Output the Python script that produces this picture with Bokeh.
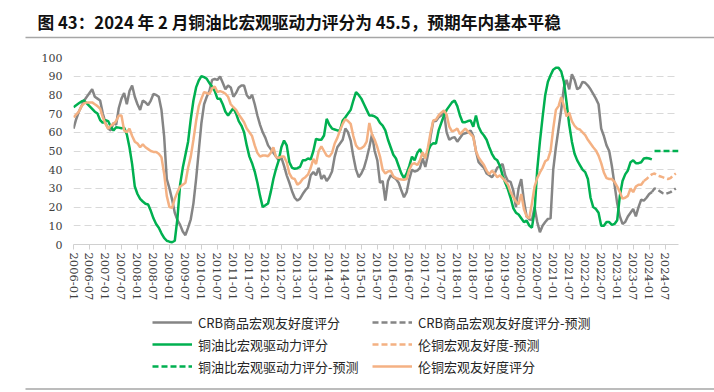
from bokeh.plotting import figure
from bokeh.layouts import column
from bokeh.models import Range1d, FixedTicker, Legend, LegendItem
from bokeh.core.properties import value
from bokeh.embed import file_html
from bokeh.resources import INLINE

# ---------------- data (monthly, index 0 = 2006-01) ----------------
crb_start = 0
crb = [62, 67, 71, 74, 77, 79, 81, 83, 79, 78, 77, 70, 65, 62, 61, 65, 64, 73, 78, 81,
       75, 82, 85, 79, 75, 72, 77, 76, 74.5, 77, 80.5, 80, 79, 72, 58, 35, 30, 24, 17, 13,
       10.5, 7, 5, 9, 13.5, 22, 35, 50, 65, 75, 79, 82, 88, 88.5, 88, 89.8, 86.5, 83, 85, 84,
       79, 81, 84, 85, 85, 80, 78, 80, 75, 69, 64, 60, 57, 53, 51, 49, 47, 45, 46.5, 42,
       37, 33, 28.5, 25, 23.5, 24.5, 27, 29, 30.6, 37, 38.7, 37, 41, 35, 37, 34, 36, 39, 47, 52,
       54, 56, 62, 60, 55.6, 47, 40, 36, 38, 41, 46, 52, 59, 50, 45, 33, 34, 23.5, 34, 37,
       36, 35, 33, 29, 25.3, 28, 35, 40, 39, 39.5, 41, 46, 41.5, 48, 58, 66, 66, 68, 69, 70.7,
       60, 56, 57, 57.4, 55, 57, 59, 59.5, 60, 61, 58, 50, 44, 42.5, 41, 38, 37, 36, 38, 41,
       42, 43, 37, 34, 33.5, 29, 20, 30, 35, 23.5, 15, 13.5, 13, 20, 12, 6.6, 10, 12, 13.7, 14,
       40, 52, 62, 72, 84, 88, 83, 91, 88, 83, 84, 87, 86.5, 85, 83, 80.6, 78, 75, 62, 58,
       53, 50, 42, 32, 22, 15, 11, 12, 15, 17, 19, 15, 20, 24, 23.5, 25, 27, 28]
crb_fc_start = 217
crb_fc = [28, 30, 29.5, 28.5, 27.5, 27, 27.5, 28, 29, 30]

oil_start = 0
oil = [73.4, 74.5, 75.5, 76.5, 77, 75.5, 74, 72.5, 71, 70, 66.5, 65, 66.5, 66, 63, 61, 62.7, 62.5, 62.2, 62.4,
       59, 52, 43, 31, 27, 24.4, 23, 21.8, 21.4, 18, 14, 11, 9, 6, 3.5, 2, 1.5, 1.2, 2, 14,
       32, 41, 48, 55, 67, 77, 84, 87.7, 90, 89.5, 88.6, 86.3, 84.5, 82, 78, 78, 75, 71, 69, 71,
       73, 70, 66, 63.6, 60, 53, 47, 43.5, 39, 33, 26, 20, 21, 22, 28, 35, 40.5, 45, 52, 55.6,
       53, 44, 41, 40.5, 40.8, 41.5, 45, 45, 46, 45.5, 50, 56.5, 56, 56, 58.3, 67.2, 64, 62, 61.5, 61,
       61, 66.3, 68, 70, 72, 77, 81.5, 80, 78, 75, 72, 69, 69, 68.5, 67.5, 65, 63.6, 61, 56, 52,
       48, 46, 42, 38, 35.5, 38, 42, 47, 45, 49, 51, 48, 46.7, 50, 53, 54.2, 54, 61, 65, 69,
       72, 74, 76, 77, 74, 69, 65.4, 65.4, 66, 66.3, 63, 69, 63, 60, 58.3, 56, 52, 48.5, 46, 45,
       42, 37, 33, 29.5, 25, 19.5, 17, 16, 14, 12, 12.8, 10.2, 9, 18, 40, 55, 68, 80, 87, 90.5,
       93.5, 94.5, 94.5, 92.5, 87, 76, 64, 55, 48.5, 45, 42.5, 40, 38.7, 35, 25, 20, 19, 17, 10, 10,
       12, 12, 10.5, 11, 13, 26, 34, 37.5, 39.6, 44, 45, 43.5, 43.5, 44, 46, 46.3, 46, 45.5]
oil_fc_start = 218
oil_fc = [50, 50, 50, 50, 50, 50, 50, 50, 50, 50]

lme_start = 0
lme = [68, 69.5, 71, 74, 75.5, 76, 76, 76, 75, 74, 72.6, 68, 64.5, 62, 63.5, 64.5, 66, 69, 69, 61,
       60, 62, 58, 55, 54, 52, 53.5, 52, 51, 50, 49.5, 49.5, 48.5, 46.7, 38, 26, 20, 19.6, 24.5, 28,
       31, 32, 33, 41, 47, 56, 66, 74, 78, 81.5, 81, 80.5, 83.5, 84.5, 81.5, 82, 81.5, 80.6, 79, 75,
       73.4, 72, 69.5, 67.5, 65.4, 62, 60, 58, 53, 49, 47, 47.6, 47.6, 47.2, 49, 52, 46.7, 46.3, 47, 47,
       44, 38, 35.5, 35, 32, 33, 35, 36, 37.5, 41, 45.8, 43, 50, 52.5, 50, 47.5, 47, 49, 54, 57,
       61, 64.5, 67, 66, 64.5, 58, 53, 51.2, 51.5, 52.5, 55, 65, 59, 56, 52, 47, 40, 38, 39, 39.6,
       36.5, 35.5, 35, 34.8, 34.6, 35, 40, 43, 43.5, 42.5, 45, 49.4, 46, 52, 60, 66.3, 66.8, 69, 70.5, 71.7,
       69.5, 63, 60.5, 61, 62, 59, 60.5, 62, 60.5, 59, 57.5, 50, 46.5, 44.5, 42.5, 39.5, 37.5, 39.5, 38, 36,
       37, 35.5, 34, 32, 28, 25.3, 23, 21.5, 27, 19, 15, 14, 22, 31, 35.5, 38.5, 41, 44.5, 45.5, 50,
       62, 72, 74, 78.8, 74.3, 68.5, 70.5, 66, 63.5, 62, 61.5, 60, 58.5, 56, 54, 52, 50.3, 47.5, 43.5, 38.5,
       35.5, 35, 35, 33.5, 31, 28, 24.5, 25, 26, 30, 28, 31, 32, 32, 34]
lme_fc_start = 214
lme_fc = [34, 35, 36.5, 37.5, 38, 37, 36.5, 36, 35.5, 35, 35.5, 37, 38]

tick_months = list(range(0, 223, 6))
tick_labels = {m: "%d-%02d" % (2006 + m // 12, m % 12 + 1) for m in tick_months}

title_text = "图 43：2024 年 2 月铜油比宏观驱动力评分为 45.5，预期年内基本平稳"
names = ["CRB商品宏观友好度评分", "铜油比宏观驱动力评分", "铜油比宏观驱动力评分-预测",
         "CRB商品宏观友好度评分-预测", "伦铜宏观友好度-预测", "伦铜宏观友好度评分"]

GRAY, GREEN, ORANGE = "#858585", "#00b050", "#f4b183"
RULE = "#a6a6a6"
W = 714
HDR_H, MAIN_H = 45, 257
FTR_H = 392 - HDR_H - MAIN_H
LW = 2.5
DASH = "6 3"
NAN = float("nan")


def no_align(fig):
    if "frame_align" in fig.properties():
        fig.frame_align = False


# ---------------- header (title + rule) ----------------
hdr = figure(frame_width=W, frame_height=HDR_H, output_backend="svg", toolbar_location=None,
             x_range=Range1d(0, W), y_range=Range1d(0, HDR_H),
             x_axis_type=None, y_axis_type=None, min_border=0)
hdr.outline_line_color = None
no_align(hdr)
hdr.text(x=[37], y=[24], text=[title_text], text_font=value("Noto Sans CJK SC"),
         text_font_style="bold", text_font_size="16.7px", text_color="#111111",
         text_baseline="middle", text_align="left")
hdr.segment(x0=[25], y0=[8], x1=[W], y1=[8], line_color=RULE, line_width=1.6)

# ---------------- main chart ----------------
p = figure(frame_width=605, frame_height=187, output_backend="svg", toolbar_location=None,
           x_range=Range1d(0, 227), y_range=Range1d(0, 100),
           min_border_left=73, min_border_right=36, min_border_top=12, min_border_bottom=58)
p.outline_line_color = None
no_align(p)

def xs(start, vals):
    return list(range(start, start + len(vals)))

p.line(xs(crb_start, crb), crb, line_color=GRAY, line_width=LW)
p.line(xs(crb_fc_start, crb_fc), crb_fc, line_color=GRAY, line_width=LW, line_dash=DASH)
p.line(xs(oil_start, oil), oil, line_color=GREEN, line_width=LW)
p.line(xs(oil_fc_start, oil_fc), oil_fc, line_color=GREEN, line_width=LW, line_dash=DASH)
p.line(xs(lme_start, lme), lme, line_color=ORANGE, line_width=LW)
p.line(xs(lme_fc_start, lme_fc), lme_fc, line_color=ORANGE, line_width=LW, line_dash=DASH)

p.xgrid.visible = False
p.ygrid.grid_line_color = "#d9d9d9"
p.ygrid.grid_line_dash = "7 4"
p.ygrid.grid_line_width = 1

p.yaxis.ticker = FixedTicker(ticks=list(range(0, 101, 10)))
p.yaxis.axis_line_color = None
p.yaxis.major_tick_line_color = None
p.yaxis.minor_tick_line_color = None
p.yaxis.major_tick_out = 0
p.yaxis.major_label_standoff = 11
p.yaxis.major_label_text_font = "DejaVu Serif"
p.yaxis.major_label_text_font_size = "11px"
p.yaxis.major_label_text_color = "#404040"

p.xaxis.ticker = FixedTicker(ticks=tick_months)
p.xaxis.major_label_overrides = tick_labels
p.xaxis.major_label_orientation = "vertical"
p.xaxis.axis_line_color = "#d0d0d0"
p.xaxis.major_tick_line_color = "#d0d0d0"
p.xaxis.minor_tick_line_color = None
p.xaxis.major_tick_out = 5
p.xaxis.major_tick_in = 0
p.xaxis.major_label_standoff = 3
p.xaxis.major_label_text_font = "DejaVu Serif"
p.xaxis.major_label_text_font_size = "11.5px"
p.xaxis.major_label_text_color = "#404040"

# ---------------- footer (legend + bottom rule) ----------------
ftr = figure(frame_width=W, frame_height=FTR_H, output_backend="svg", toolbar_location=None,
             x_range=Range1d(0, W), y_range=Range1d(0, FTR_H),
             x_axis_type=None, y_axis_type=None, min_border=0)
ftr.outline_line_color = None
no_align(ftr)
ftr.segment(x0=[25], y0=[4.5], x1=[W], y1=[4.5], line_color=RULE, line_width=1.6)

# legend swatches (same styles as the series above, no data of their own)
k_crb = ftr.line([NAN], [NAN], line_color=GRAY, line_width=LW)
k_oil = ftr.line([NAN], [NAN], line_color=GREEN, line_width=LW)
k_oil_fc = ftr.line([NAN], [NAN], line_color=GREEN, line_width=LW, line_dash=DASH)
k_crb_fc = ftr.line([NAN], [NAN], line_color=GRAY, line_width=LW, line_dash=DASH)
k_lme_fc = ftr.line([NAN], [NAN], line_color=ORANGE, line_width=LW, line_dash=DASH)
k_lme = ftr.line([NAN], [NAN], line_color=ORANGE, line_width=LW)

def make_legend(items, vx):
    return Legend(items=items, location=(vx, 16), orientation="vertical",
                  padding=0, margin=0, spacing=0, glyph_width=40, glyph_height=22,
                  label_height=22, label_standoff=6,
                  border_line_alpha=0, background_fill_alpha=0,
                  label_text_font="Noto Sans CJK SC", label_text_font_size="13px",
                  label_text_color="#262626")

ftr.add_layout(make_legend([LegendItem(label=names[0], renderers=[k_crb]),
                            LegendItem(label=names[1], renderers=[k_oil]),
                            LegendItem(label=names[2], renderers=[k_oil_fc])], 152))
ftr.add_layout(make_legend([LegendItem(label=names[3], renderers=[k_crb_fc]),
                            LegendItem(label=names[4], renderers=[k_lme_fc]),
                            LegendItem(label=names[5], renderers=[k_lme])], 372))

layout = column(hdr, p, ftr, spacing=0)
open("out.html", "w").write(file_html(layout, INLINE))
